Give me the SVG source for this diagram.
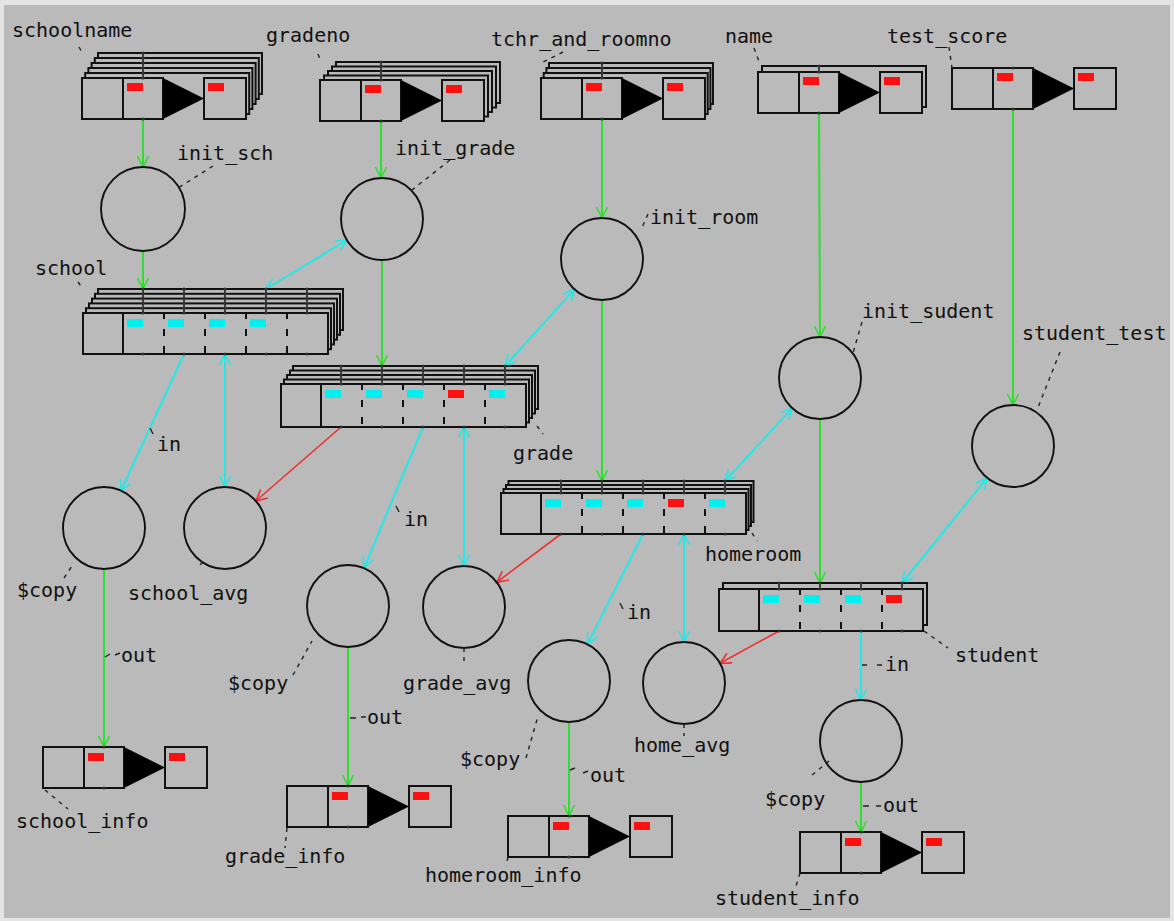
<svg xmlns="http://www.w3.org/2000/svg" width="1174" height="921" viewBox="0 0 1174 921">
<defs>
<style>
.bgr{fill:#bababa}
.box{fill:#bababa;stroke:#111;stroke-width:2}
.cov{fill:#bababa}
.tri{fill:#000}
.red{fill:#ff1010}
.cy{fill:#00f0f0}
.kl{stroke:#222;stroke-width:1.6}
.kn{fill:#333}
.dv{stroke:#111;stroke-width:2;stroke-dasharray:7 10}
.nd{fill:none;stroke:#111;stroke-width:1.9}
text{font-family:"DejaVu Sans Mono","Liberation Mono",monospace;font-size:20px;fill:#111}
.ld{stroke:#222;stroke-width:1.4;stroke-dasharray:4 5;fill:none}
.tk{stroke:#222;stroke-width:1.4;fill:none}
.g{stroke:#2de02d;stroke-width:2;fill:none;marker-end:url(#ag)}
.c1{stroke:#22e8e8;stroke-width:2;fill:none;marker-end:url(#ac)}
.c2{stroke:#22e8e8;stroke-width:2;fill:none;marker-end:url(#ac);marker-start:url(#ac)}
.r{stroke:#ee3030;stroke-width:1.6;fill:none;marker-end:url(#ar)}
</style>
<marker id="ag" markerWidth="14" markerHeight="14" refX="12" refY="6" orient="auto-start-reverse" markerUnits="userSpaceOnUse"><path d="M1,0.5 L12,6 L1,11.5" fill="none" stroke="#2de02d" stroke-width="1.6"/></marker>
<marker id="ac" markerWidth="14" markerHeight="14" refX="12" refY="6" orient="auto-start-reverse" markerUnits="userSpaceOnUse"><path d="M1,0.5 L12,6 L1,11.5" fill="none" stroke="#22e8e8" stroke-width="1.6"/></marker>
<marker id="ar" markerWidth="14" markerHeight="14" refX="12" refY="6" orient="auto-start-reverse" markerUnits="userSpaceOnUse"><path d="M1,0.5 L12,6 L1,11.5" fill="none" stroke="#ee3030" stroke-width="1.6"/></marker>
</defs>
<rect x="0" y="0" width="1174" height="921" fill="#e4e4e4"/>
<rect x="4" y="5" width="1166" height="913" class="bgr"/>

<g id="connectors">
<line class="g" x1="143" y1="120" x2="143" y2="167"/>
<line class="g" x1="143" y1="251" x2="143" y2="289"/>
<line class="g" x1="381" y1="122" x2="381" y2="178"/>
<line class="g" x1="382" y1="260" x2="382" y2="366"/>
<line class="g" x1="602" y1="120" x2="602" y2="218"/>
<line class="g" x1="602" y1="300" x2="602" y2="481"/>
<line class="g" x1="819" y1="114" x2="820" y2="337"/>
<line class="g" x1="820" y1="419" x2="820" y2="583"/>
<line class="g" x1="1013" y1="110" x2="1013" y2="405"/>
<line class="g" x1="104" y1="570" x2="104" y2="747"/>
<line class="g" x1="348" y1="648" x2="348" y2="786"/>
<line class="g" x1="569" y1="723" x2="569" y2="816"/>
<line class="g" x1="861" y1="783" x2="861" y2="832"/>
<line class="c2" x1="266" y1="289" x2="347" y2="240"/>
<line class="c2" x1="505" y1="366" x2="574.5" y2="289.4"/>
<line class="c2" x1="725" y1="481" x2="792.2" y2="408.1"/>
<line class="c2" x1="902" y1="583" x2="987.2" y2="477.9"/>
<line class="c1" x1="184" y1="354" x2="121" y2="491"/>
<line class="c2" x1="225" y1="354" x2="225" y2="487"/>
<line class="c1" x1="423" y1="427" x2="364" y2="568"/>
<line class="c2" x1="464" y1="427" x2="464" y2="566"/>
<line class="c1" x1="643" y1="534" x2="587.4" y2="644.4"/>
<line class="c2" x1="684" y1="534" x2="684" y2="642"/>
<line class="c1" x1="861" y1="631" x2="861" y2="700"/>
<line class="r" x1="341" y1="427" x2="255.9" y2="501"/>
<line class="r" x1="561" y1="534" x2="496.8" y2="582.3"/>
<line class="r" x1="779" y1="631" x2="720" y2="663.3"/>
<path class="tk" d="M150,428 L153,434"/>
<text x="157" y="451">in</text>
<path class="tk" d="M396,506 L399,512"/>
<text x="404" y="526">in</text>
<path class="tk" d="M620,603 L623,609"/>
<text x="627" y="619">in</text>
<path class="tk" d="M862,665 L867,665 M877,665 L882,665"/>
<text x="885" y="671">in</text>
<path class="tk" d="M105,657 L110,654 M115,655 L120,653"/>
<text x="121" y="662">out</text>
<path class="tk" d="M350,718 L356,718 M361,717 L366,717"/>
<text x="367" y="724">out</text>
<path class="tk" d="M570,770 L575,768 M583,773 L588,771"/>
<text x="590" y="782">out</text>
<path class="tk" d="M863,806 L869,806 M876,806 L881,806"/>
<text x="883" y="812">out</text>
</g>

<g id="schoolname">
<g transform="translate(82,78)">
<rect class="box" x="16" y="-25" width="164" height="41"/>
<rect class="box" x="12.8" y="-20" width="164" height="41"/>
<rect class="box" x="9.6" y="-15" width="164" height="41"/>
<rect class="box" x="6.4" y="-10" width="164" height="41"/>
<rect class="box" x="3.2" y="-5" width="164" height="41"/>
<rect class="cov" x="0" y="0" width="164" height="41"/>
<rect class="box" x="0" y="0" width="41" height="41"/>
<rect class="box" x="41" y="0" width="40" height="41"/>
<polygon class="tri" points="81,0 122,20.5 81,41"/>
<rect class="box" x="122" y="0" width="42" height="41"/>
<rect class="red" x="45" y="5" width="16" height="8"/>
<rect class="red" x="126" y="5" width="16" height="8"/>
<line class="kl" x1="61" y1="-25" x2="61" y2="0"/>
<circle class="kn" cx="61" cy="-25" r="1.6"/><circle class="kn" cx="61" cy="-20" r="1.6"/><circle class="kn" cx="61" cy="-15" r="1.6"/><circle class="kn" cx="61" cy="-10" r="1.6"/><circle class="kn" cx="61" cy="-5" r="1.6"/><circle class="kn" cx="61" cy="0" r="1.6"/><circle class="kn" cx="61" cy="41" r="1.6"/>
</g>
<text x="12" y="37">schoolname</text>
<path class="ld" d="M79,47 L83,54"/>
</g>

<g id="gradeno">
<g transform="translate(320,80)">
<rect class="box" x="16" y="-18" width="164" height="41"/>
<rect class="box" x="12" y="-13.5" width="164" height="41"/>
<rect class="box" x="8" y="-9" width="164" height="41"/>
<rect class="box" x="4" y="-4.5" width="164" height="41"/>
<rect class="cov" x="0" y="0" width="164" height="41"/>
<rect class="box" x="0" y="0" width="41" height="41"/>
<rect class="box" x="41" y="0" width="40" height="41"/>
<polygon class="tri" points="81,0 122,20.5 81,41"/>
<rect class="box" x="122" y="0" width="42" height="41"/>
<rect class="red" x="45" y="5" width="16" height="8"/>
<rect class="red" x="126" y="5" width="16" height="8"/>
<line class="kl" x1="61" y1="-18" x2="61" y2="0"/>
<circle class="kn" cx="61" cy="-18" r="1.6"/><circle class="kn" cx="61" cy="-13.5" r="1.6"/><circle class="kn" cx="61" cy="-9" r="1.6"/><circle class="kn" cx="61" cy="-4.5" r="1.6"/><circle class="kn" cx="61" cy="0" r="1.6"/><circle class="kn" cx="61" cy="41" r="1.6"/>
</g>
<text x="266" y="42">gradeno</text>
<path class="ld" d="M318,54 L321,62"/>
</g>

<g id="tchr_and_roomno">
<g transform="translate(541,78)">
<rect class="box" x="8" y="-15" width="164" height="41"/>
<rect class="box" x="5.4" y="-10" width="164" height="41"/>
<rect class="box" x="2.7" y="-5" width="164" height="41"/>
<rect class="cov" x="0" y="0" width="164" height="41"/>
<rect class="box" x="0" y="0" width="41" height="41"/>
<rect class="box" x="41" y="0" width="40" height="41"/>
<polygon class="tri" points="81,0 122,20.5 81,41"/>
<rect class="box" x="122" y="0" width="42" height="41"/>
<rect class="red" x="45" y="5" width="16" height="8"/>
<rect class="red" x="126" y="5" width="16" height="8"/>
<line class="kl" x1="61" y1="-15" x2="61" y2="0"/>
<circle class="kn" cx="61" cy="-15" r="1.6"/><circle class="kn" cx="61" cy="-10" r="1.6"/><circle class="kn" cx="61" cy="-5" r="1.6"/><circle class="kn" cx="61" cy="0" r="1.6"/><circle class="kn" cx="61" cy="41" r="1.6"/>
</g>
<text x="491" y="46">tchr_and_roomno</text>
<path class="ld" d="M563,52 L541,63"/>
</g>

<g id="name">
<g transform="translate(758,72)">
<rect class="box" x="4" y="-6" width="164" height="41"/>
<rect class="cov" x="0" y="0" width="164" height="41"/>
<rect class="box" x="0" y="0" width="41" height="41"/>
<rect class="box" x="41" y="0" width="40" height="41"/>
<polygon class="tri" points="81,0 122,20.5 81,41"/>
<rect class="box" x="122" y="0" width="42" height="41"/>
<rect class="red" x="45" y="5" width="16" height="8"/>
<rect class="red" x="126" y="5" width="16" height="8"/>
<line class="kl" x1="61" y1="-6" x2="61" y2="0"/>
<circle class="kn" cx="61" cy="-6" r="1.6"/><circle class="kn" cx="61" cy="0" r="1.6"/><circle class="kn" cx="61" cy="41" r="1.6"/>
</g>
<text x="725" y="43">name</text>
<path class="ld" d="M754,48 L760,64"/>
</g>

<g id="test_score">
<g transform="translate(952,68)">
<rect class="box" x="0" y="0" width="41" height="41"/>
<rect class="box" x="41" y="0" width="40" height="41"/>
<polygon class="tri" points="81,0 122,20.5 81,41"/>
<rect class="box" x="122" y="0" width="42" height="41"/>
<rect class="red" x="45" y="5" width="16" height="8"/>
<rect class="red" x="126" y="5" width="16" height="8"/>
<circle class="kn" cx="61" cy="0" r="1.6"/><circle class="kn" cx="61" cy="41" r="1.6"/>
</g>
<text x="887" y="43">test_score</text>
<path class="ld" d="M949,47 L952,68"/>
</g>

<g id="init_sch">
<circle class="nd" cx="143" cy="209" r="42"/>
<text x="177" y="160">init_sch</text>
<path class="ld" d="M213,166 L178,188"/>
</g>
<g id="init_grade">
<circle class="nd" cx="382" cy="219" r="41"/>
<text x="395" y="155">init_grade</text>
<path class="ld" d="M450,160 L412,190"/>
</g>
<g id="init_room">
<circle class="nd" cx="602" cy="259" r="41"/>
<text x="650" y="224">init_room</text>
<path class="ld" d="M648,214 L641,230"/>
</g>
<g id="init_sudent">
<circle class="nd" cx="820" cy="378" r="41"/>
<text x="862" y="318">init_sudent</text>
<path class="ld" d="M862,322 L853,353"/>
</g>
<g id="student_test">
<circle class="nd" cx="1013" cy="446" r="41"/>
<text x="1022" y="340">student_test</text>
<path class="ld" d="M1060,352 L1037,410"/>
</g>

<g id="school">
<g transform="translate(83,313)">
<rect class="box" x="15" y="-24" width="245" height="41"/>
<rect class="box" x="12" y="-19.2" width="245" height="41"/>
<rect class="box" x="9" y="-14.4" width="245" height="41"/>
<rect class="box" x="6" y="-9.6" width="245" height="41"/>
<rect class="box" x="3" y="-4.8" width="245" height="41"/>
<rect class="box" x="0" y="0" width="245" height="41"/>
<line class="box" x1="40" y1="0" x2="40" y2="41"/>
<line class="dv" x1="81" y1="-1" x2="81" y2="41"/><line class="dv" x1="122" y1="-1" x2="122" y2="41"/><line class="dv" x1="163" y1="-1" x2="163" y2="41"/><line class="dv" x1="204" y1="-1" x2="204" y2="41"/>
<rect class="cy" x="44" y="6" width="16" height="8"/><rect class="cy" x="85" y="6" width="16" height="8"/><rect class="cy" x="126" y="6" width="16" height="8"/><rect class="cy" x="167" y="6" width="16" height="8"/>
<path class="kl" d="M60,-24V0 M101,-24V0 M142,-24V0 M183,-24V0 M224,-24V0"/>
<g class="kn">
<circle cx="60" cy="-24" r="1.5"/><circle cx="60" cy="-19.2" r="1.5"/><circle cx="60" cy="-14.4" r="1.5"/><circle cx="60" cy="-9.6" r="1.5"/><circle cx="60" cy="-4.8" r="1.5"/><circle cx="60" cy="0" r="1.5"/><circle cx="60" cy="41" r="1.5"/>
<circle cx="101" cy="-24" r="1.5"/><circle cx="101" cy="-19.2" r="1.5"/><circle cx="101" cy="-14.4" r="1.5"/><circle cx="101" cy="-9.6" r="1.5"/><circle cx="101" cy="-4.8" r="1.5"/><circle cx="101" cy="0" r="1.5"/><circle cx="101" cy="41" r="1.5"/>
<circle cx="142" cy="-24" r="1.5"/><circle cx="142" cy="-19.2" r="1.5"/><circle cx="142" cy="-14.4" r="1.5"/><circle cx="142" cy="-9.6" r="1.5"/><circle cx="142" cy="-4.8" r="1.5"/><circle cx="142" cy="0" r="1.5"/><circle cx="142" cy="41" r="1.5"/>
<circle cx="183" cy="-24" r="1.5"/><circle cx="183" cy="-19.2" r="1.5"/><circle cx="183" cy="-14.4" r="1.5"/><circle cx="183" cy="-9.6" r="1.5"/><circle cx="183" cy="-4.8" r="1.5"/><circle cx="183" cy="0" r="1.5"/><circle cx="183" cy="41" r="1.5"/>
<circle cx="224" cy="-24" r="1.5"/><circle cx="224" cy="-19.2" r="1.5"/><circle cx="224" cy="-14.4" r="1.5"/><circle cx="224" cy="-9.6" r="1.5"/><circle cx="224" cy="-4.8" r="1.5"/><circle cx="224" cy="0" r="1.5"/><circle cx="224" cy="41" r="1.5"/>
</g>
</g>
<text x="35" y="275">school</text>
<path class="ld" d="M78,282 L83,289"/>
</g>

<g id="grade">
<g transform="translate(281,384)">
<rect class="box" x="12" y="-18" width="245" height="43"/>
<rect class="box" x="9" y="-13.5" width="245" height="43"/>
<rect class="box" x="6" y="-9" width="245" height="43"/>
<rect class="box" x="3" y="-4.5" width="245" height="43"/>
<rect class="box" x="0" y="0" width="245" height="43"/>
<line class="box" x1="40" y1="0" x2="40" y2="43"/>
<line class="dv" x1="81" y1="-1" x2="81" y2="43"/><line class="dv" x1="122" y1="-1" x2="122" y2="43"/><line class="dv" x1="163" y1="-1" x2="163" y2="43"/><line class="dv" x1="204" y1="-1" x2="204" y2="43"/>
<rect class="cy" x="44" y="6" width="16" height="8"/><rect class="cy" x="85" y="6" width="16" height="8"/><rect class="cy" x="126" y="6" width="16" height="8"/><rect class="red" x="167" y="6" width="16" height="8"/><rect class="cy" x="208" y="6" width="16" height="8"/>
<path class="kl" d="M60,-18V0 M101,-18V0 M142,-18V0 M183,-18V0 M224,-18V0"/>
<g class="kn">
<circle cx="60" cy="-18" r="1.5"/><circle cx="60" cy="-13.5" r="1.5"/><circle cx="60" cy="-9" r="1.5"/><circle cx="60" cy="-4.5" r="1.5"/><circle cx="60" cy="0" r="1.5"/><circle cx="60" cy="43" r="1.5"/>
<circle cx="101" cy="-18" r="1.5"/><circle cx="101" cy="-13.5" r="1.5"/><circle cx="101" cy="-9" r="1.5"/><circle cx="101" cy="-4.5" r="1.5"/><circle cx="101" cy="0" r="1.5"/><circle cx="101" cy="43" r="1.5"/>
<circle cx="142" cy="-18" r="1.5"/><circle cx="142" cy="-13.5" r="1.5"/><circle cx="142" cy="-9" r="1.5"/><circle cx="142" cy="-4.5" r="1.5"/><circle cx="142" cy="0" r="1.5"/><circle cx="142" cy="43" r="1.5"/>
<circle cx="183" cy="-18" r="1.5"/><circle cx="183" cy="-13.5" r="1.5"/><circle cx="183" cy="-9" r="1.5"/><circle cx="183" cy="-4.5" r="1.5"/><circle cx="183" cy="0" r="1.5"/><circle cx="183" cy="43" r="1.5"/>
<circle cx="224" cy="-18" r="1.5"/><circle cx="224" cy="-13.5" r="1.5"/><circle cx="224" cy="-9" r="1.5"/><circle cx="224" cy="-4.5" r="1.5"/><circle cx="224" cy="0" r="1.5"/><circle cx="224" cy="43" r="1.5"/>
</g>
</g>
<text x="513" y="460">grade</text>
<path class="ld" d="M537,426 L543,434"/>
</g>

<g id="homeroom">
<g transform="translate(501,493)">
<rect class="box" x="7.5" y="-12" width="245" height="41"/>
<rect class="box" x="5" y="-8" width="245" height="41"/>
<rect class="box" x="2.5" y="-4" width="245" height="41"/>
<rect class="box" x="0" y="0" width="245" height="41"/>
<line class="box" x1="40" y1="0" x2="40" y2="41"/>
<line class="dv" x1="81" y1="-1" x2="81" y2="41"/><line class="dv" x1="122" y1="-1" x2="122" y2="41"/><line class="dv" x1="163" y1="-1" x2="163" y2="41"/><line class="dv" x1="204" y1="-1" x2="204" y2="41"/>
<rect class="cy" x="44" y="6" width="16" height="8"/><rect class="cy" x="85" y="6" width="16" height="8"/><rect class="cy" x="126" y="6" width="16" height="8"/><rect class="red" x="167" y="6" width="16" height="8"/><rect class="cy" x="208" y="6" width="16" height="8"/>
<path class="kl" d="M60,-12V0 M101,-12V0 M142,-12V0 M183,-12V0 M224,-12V0"/>
<g class="kn">
<circle cx="60" cy="-12" r="1.5"/><circle cx="60" cy="-8" r="1.5"/><circle cx="60" cy="-4" r="1.5"/><circle cx="60" cy="0" r="1.5"/><circle cx="60" cy="41" r="1.5"/>
<circle cx="101" cy="-12" r="1.5"/><circle cx="101" cy="-8" r="1.5"/><circle cx="101" cy="-4" r="1.5"/><circle cx="101" cy="0" r="1.5"/><circle cx="101" cy="41" r="1.5"/>
<circle cx="142" cy="-12" r="1.5"/><circle cx="142" cy="-8" r="1.5"/><circle cx="142" cy="-4" r="1.5"/><circle cx="142" cy="0" r="1.5"/><circle cx="142" cy="41" r="1.5"/>
<circle cx="183" cy="-12" r="1.5"/><circle cx="183" cy="-8" r="1.5"/><circle cx="183" cy="-4" r="1.5"/><circle cx="183" cy="0" r="1.5"/><circle cx="183" cy="41" r="1.5"/>
<circle cx="224" cy="-12" r="1.5"/><circle cx="224" cy="-8" r="1.5"/><circle cx="224" cy="-4" r="1.5"/><circle cx="224" cy="0" r="1.5"/><circle cx="224" cy="41" r="1.5"/>
</g>
</g>
<text x="705" y="561">homeroom</text>
<path class="ld" d="M752,533 L757,541"/>
</g>

<g id="student">
<g transform="translate(719,589)">
<rect class="box" x="4" y="-6" width="204" height="42"/>
<rect class="box" x="0" y="0" width="204" height="42"/>
<line class="box" x1="40" y1="0" x2="40" y2="42"/>
<line class="dv" x1="81" y1="-1" x2="81" y2="42"/><line class="dv" x1="122" y1="-1" x2="122" y2="42"/><line class="dv" x1="163" y1="-1" x2="163" y2="42"/>
<rect class="cy" x="44" y="6" width="16" height="8"/><rect class="cy" x="85" y="6" width="16" height="8"/><rect class="cy" x="126" y="6" width="16" height="8"/><rect class="red" x="167" y="6" width="16" height="8"/>
<path class="kl" d="M60,-6V0 M101,-6V0 M142,-6V0 M183,-6V0"/>
<g class="kn">
<circle cx="60" cy="-6" r="1.5"/><circle cx="60" cy="0" r="1.5"/><circle cx="60" cy="42" r="1.5"/>
<circle cx="101" cy="-6" r="1.5"/><circle cx="101" cy="0" r="1.5"/><circle cx="101" cy="42" r="1.5"/>
<circle cx="142" cy="-6" r="1.5"/><circle cx="142" cy="0" r="1.5"/><circle cx="142" cy="42" r="1.5"/>
<circle cx="183" cy="-6" r="1.5"/><circle cx="183" cy="0" r="1.5"/><circle cx="183" cy="42" r="1.5"/>
</g>
</g>
<text x="955" y="662">student</text>
<path class="ld" d="M924,631 L948,648"/>
</g>

<g id="copy_school">
<circle class="nd" cx="104" cy="528" r="41"/>
<text x="17" y="597">$copy</text>
<path class="ld" d="M64,578 L74,563"/>
</g>
<g id="school_avg">
<circle class="nd" cx="225" cy="528" r="41"/>
<text x="128" y="600">school_avg</text>
<path class="ld" d="M203,562 L198,567"/>
</g>
<g id="copy_grade">
<circle class="nd" cx="348" cy="606" r="41"/>
<text x="228" y="690">$copy</text>
<path class="ld" d="M293,675 L312,641"/>
</g>
<g id="grade_avg">
<circle class="nd" cx="464" cy="607" r="41"/>
<text x="403" y="690">grade_avg</text>
<path class="ld" d="M464,648 L464,662"/>
</g>
<g id="copy_homeroom">
<circle class="nd" cx="569" cy="681" r="41"/>
<text x="460" y="766">$copy</text>
<path class="ld" d="M526,758 L538,716"/>
</g>
<g id="home_avg">
<circle class="nd" cx="684" cy="683" r="41"/>
<text x="634" y="752">home_avg</text>
<path class="ld" d="M684,724 L684,736"/>
</g>
<g id="copy_student">
<circle class="nd" cx="861" cy="741" r="41"/>
<text x="765" y="806">$copy</text>
<path class="ld" d="M812,775 L829,761"/>
</g>

<g id="school_info">
<g transform="translate(43,747)">
<rect class="box" x="0" y="0" width="41" height="41"/>
<rect class="box" x="41" y="0" width="40" height="41"/>
<polygon class="tri" points="81,0 122,20.5 81,41"/>
<rect class="box" x="122" y="0" width="42" height="41"/>
<rect class="red" x="45" y="6" width="16" height="8"/>
<rect class="red" x="126" y="6" width="16" height="8"/>
<circle class="kn" cx="61" cy="0" r="1.6"/><circle class="kn" cx="61" cy="41" r="1.6"/>
</g>
<text x="16" y="828">school_info</text>
<path class="ld" d="M45,790 L68,809"/>
</g>
<g id="grade_info">
<g transform="translate(287,786)">
<rect class="box" x="0" y="0" width="41" height="41"/>
<rect class="box" x="41" y="0" width="40" height="41"/>
<polygon class="tri" points="81,0 122,20.5 81,41"/>
<rect class="box" x="122" y="0" width="42" height="41"/>
<rect class="red" x="45" y="6" width="16" height="8"/>
<rect class="red" x="126" y="6" width="16" height="8"/>
<circle class="kn" cx="61" cy="0" r="1.6"/><circle class="kn" cx="61" cy="41" r="1.6"/>
</g>
<text x="225" y="863">grade_info</text>
<path class="ld" d="M287,828 L285,848"/>
</g>
<g id="homeroom_info">
<g transform="translate(508,816)">
<rect class="box" x="0" y="0" width="41" height="41"/>
<rect class="box" x="41" y="0" width="40" height="41"/>
<polygon class="tri" points="81,0 122,20.5 81,41"/>
<rect class="box" x="122" y="0" width="42" height="41"/>
<rect class="red" x="45" y="6" width="16" height="8"/>
<rect class="red" x="126" y="6" width="16" height="8"/>
<circle class="kn" cx="61" cy="0" r="1.6"/><circle class="kn" cx="61" cy="41" r="1.6"/>
</g>
<text x="425" y="882">homeroom_info</text>
<path class="ld" d="M508,857 L506,866"/>
</g>
<g id="student_info">
<g transform="translate(800,832)">
<rect class="box" x="0" y="0" width="41" height="41"/>
<rect class="box" x="41" y="0" width="40" height="41"/>
<polygon class="tri" points="81,0 122,20.5 81,41"/>
<rect class="box" x="122" y="0" width="42" height="41"/>
<rect class="red" x="45" y="6" width="16" height="8"/>
<rect class="red" x="126" y="6" width="16" height="8"/>
<circle class="kn" cx="61" cy="0" r="1.6"/><circle class="kn" cx="61" cy="41" r="1.6"/>
</g>
<text x="715" y="905">student_info</text>
<path class="ld" d="M800,873 L796,886"/>
</g>
</svg>
